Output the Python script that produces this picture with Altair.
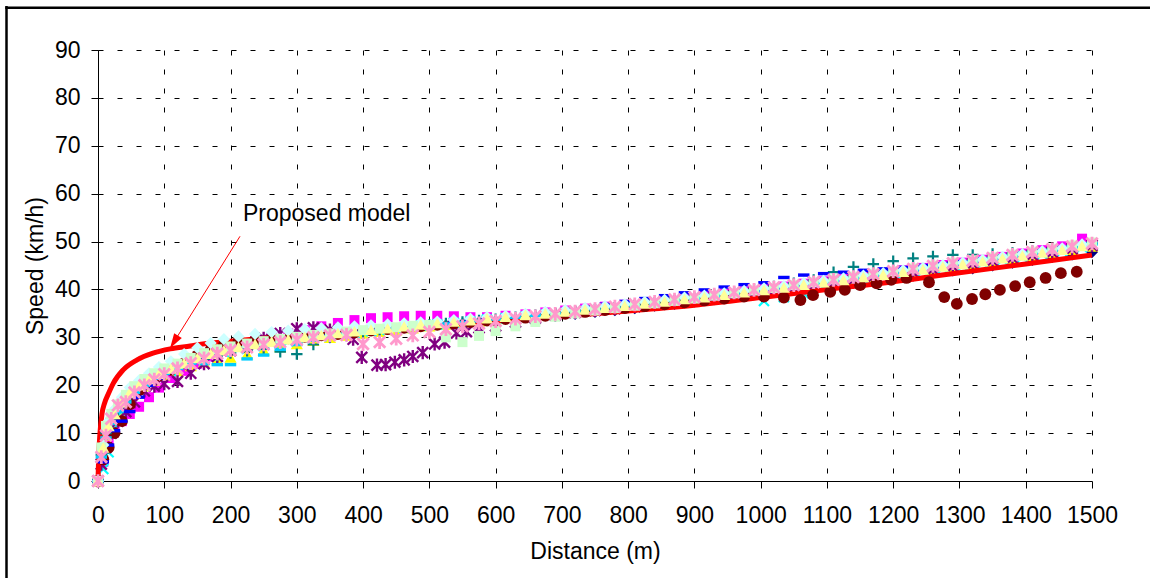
import altair as alt
import pandas as pd

FONT = "Liberation Sans"

# ---------------- data ----------------
X_TICKS = [0, 100, 200, 300, 400, 500, 600, 700, 800, 900, 1000, 1100, 1200, 1300, 1400, 1500]
Y_TICKS = [0, 10, 20, 30, 40, 50, 60, 70, 80, 90]

DIST_A = [
    0, 5, 12, 20, 30, 42, 55, 70, 85, 100,
    120, 140, 160, 180, 200, 225, 250, 275, 300, 325,
    350, 375, 400, 425, 450, 475, 500, 525, 550, 575,
    600, 630, 660, 690, 720, 750, 780, 810, 840, 870,
    900, 930, 960, 990, 1020, 1050, 1080, 1110, 1140, 1170,
    1200, 1230, 1260, 1290, 1320, 1350, 1380, 1410, 1440, 1470,
    1500]
DIST_B = [
    0, 8, 16, 25, 36, 48, 62, 77, 92, 110,
    130, 150, 170, 190, 212, 237, 262, 287, 312, 337,
    362, 387, 412, 437, 462, 487, 512, 537, 562, 587,
    615, 645, 675, 705, 735, 765, 795, 825, 855, 885,
    915, 945, 975, 1005, 1035, 1065, 1095, 1125, 1155, 1185,
    1215, 1245, 1275, 1305, 1335, 1365, 1395, 1425, 1455, 1485]

NAVY_V = [
    0, 4, 9, 12, 14, 16.5, 18, 19.5, 21, 22,
    23.2, 24.5, 25.5, 26.3, 27, 27.5, 28.1, 28.6, 29.1, 29.6,
    30, 30.4, 30.7, 31.1, 31.4, 31.8, 32.2, 32.5, 32.8, 33.1,
    33.4, 33.8, 34.1, 34.5, 34.9, 35.3, 35.7, 36.1, 36.6, 37,
    37.5, 38, 38.5, 39, 39.5, 40, 40.5, 41, 41.4, 41.9,
    42.4, 42.9, 43.5, 44, 44.4, 45, 45.6, 46.2, 46.8, 47.3,
    47.8]
MAGENTA_V = [
    0, 4, 8, 10.5, 12.5, 14, 15.5, 17.5, 19.5, 21.5,
    23, 24.5, 26, 27.2, 28.2, 29.2, 30, 30.8, 31.5, 32.3,
    33, 33.6, 34, 34.2, 34.4, 34.5, 34.5, 34.4, 34.2, 34.2,
    34.5, 34.8, 35.2, 35.6, 36, 36.4, 36.8, 37.3, 37.7, 38.2,
    38.6, 39.1, 39.6, 40.1, 40.6, 41.2, 41.7, 42.2, 42.8, 43.3,
    44, 44.5, 45.1, 45.6, 46.2, 46.8, 47.5, 48.2, 49, 50.6]
YELLOW_V = [
    0, 5, 9.5, 12.5, 14.5, 16.5, 18.3, 19.8, 21, 22,
    23, 24, 24.8, 25.3, 25.8, 26.5, 27.3, 28, 28.6, 29.3,
    29.9, 30.4, 30.8, 31.2, 31.5, 31.9, 32.3, 32.7, 33, 33.3,
    33.6, 34, 34.4, 34.8, 35.2, 35.6, 36, 36.4, 36.9, 37.3,
    37.8, 38.3, 38.8, 39.3, 39.8, 40.3, 40.8, 41.4, 42, 42.5,
    43, 43.5, 44.1, 44.7, 45.2, 45.8, 46.4, 47, 47.6, 48.3,
    49]
CYAN_V = [
    0, 2.5, 6, 11, 14.5, 17, 19, 20.5, 21.8, 23,
    24.2, 25.3, 26.2, 27, 27.6, 28.2, 28.7, 29.2, 29.7, 30.2,
    30.6, 30.9, 31.3, 31.6, 32, 32.4, 32.7, 33, 33.3, 33.7,
    34, 34.3, 34.7, 35.1, 35.5, 35.9, 36.3, 36.8, 37.2, 37.6,
    38, 38.5, 39, 37.6, 38.4, 39.2, 40.6, 41.6, 42.2, 42.8,
    43.4, 43.9, 44.5, 45, 45.6, 46.2, 46.8, 47.4, 48, 48.8]
PURPLE_V = [
    0, 3.5, 7, 10, 12.5, 14.5, 16.5, 18.8, 19.8, 20.3,
    20.8, 22.5, 24.5, 26, 27.2, 28.5, 29.8, 30.8, 31.8, 32,
    31.5, None, None, None, None, None, None, None, None, None,
    32.4, 33.2, 34, 34.7, 35.2, 35.6, 36, 36.4, 36.9, 37.3,
    37.8, 38.3, 38.8, 39.3, 39.8, 40.4, 40.9, 41.5, 42, 42.6,
    43.1, 43.6, 44.2, 44.8, 45.4, 46, 46.6, 47.2, 47.8, 48.5,
    49.2]
PURPLE_DIP_D = [385, 398, 421, 434, 448, 462, 475, 490, 508, 523, 541, 556, 575]
PURPLE_DIP_V = [29.6, 25.8, 24.2, 24.3, 24.8, 25.3, 26, 26.8, 28.6, 29, 30.9, 31.2, 32]
MAROON_V = [
    0, 4.5, 7, 10, 12.5, 16, 19, 20.8, 22, 23.2,
    24.6, 26.2, 27.4, 28.4, 29.2, 29.4, 29.6, 29.8, 30.1, 30.4,
    30.7, 31, 31.4, 31.7, 32, 32.3, 32.6, 32.9, 33.2, 33.5,
    33.8, 34.1, 34.5, 34.9, 35.3, 35.7, 36.1, 36.5, 36.9, 37.3,
    37.7, 38.1, 38.5, 38.5, 38.3, None, None, None, None, None,
    None, None, None, None, None, None, None, None, None, None]
MAROON_TAIL_D = [1060, 1079, 1105, 1127, 1150, 1175, 1197, 1220, 1254, 1277,
                 1296, 1319, 1339, 1361, 1384, 1406, 1430, 1453, 1477]
MAROON_TAIL_V = [37.8, 38.8, 39.5, 39.9, 40.9, 41.3, 42, 42.4, 41.5, 38.4,
                 37, 38, 39, 39.9, 40.7, 41.5, 42.4, 43.4, 43.7]
TEAL_V = [
    0, 5.5, 10, 13, 15, 17, 18.7, 20.2, 21.3, 22.4,
    23.5, 24.6, 25.5, 26.2, 26.7, 27.2, 27.6, 27, 26.5, 28.5,
    30, 30.6, 31, 31.4, 31.8, 32.2, 32.6, 32.9, 33.2, 33.5,
    33.8, 34.2, 34.6, 35, 35.4, 35.8, 36.2, 36.7, 37.2, 37.7,
    38.2, 38.8, 39.4, 40, 40.6, 41.3, 42, 43.6, 44.7, 45.3,
    45.9, 46.5, 46.9, 47.2, 47.2, 47.4, 47.6, 48, 48.5, 49,
    49.6]
BLUE_V = [
    0, 4, 7.5, 10.5, 12.5, 14.5, 17.5, 20, 21.5, 22.8,
    24, 25.2, 26.2, 27, 27.6, 28.2, 28.8, 29.3, 29.8, 30.3,
    30.7, 31.1, 31.5, 31.8, 32.2, 32.6, 33, 33.3, 33.6, 34,
    34.4, 34.8, 35.3, 35.8, 36.3, 36.9, 37.5, 38.1, 38.7, 39.3,
    39.9, 40.5, 41, 41.4, 42.5, 43, 43.3, 43.6, 44, 44.3,
    44.6, 45, 45.4, 45.8, 46.3, 46.8, 47.4, 48, 48.6, 49.4]
SKY_V = [
    0, 5, 9, 12, 14.5, 16.5, 18.5, 20, 21.5, 22.5,
    23.5, 24.6, 24.5, 24.3, 24.3, 25.5, 26.3, 27.5, 28.5, 29.4,
    30.1, 30.6, 31, 31.4, 31.8, 32.1, 32.5, 32.8, 33.1, 33.4,
    33.8, 34.2, 34.6, 35, 35.4, 35.8, 36.2, 36.6, 37.1, 37.6,
    38.1, 38.6, 39.1, 39.6, 40.1, 40.6, 41.2, 41.8, 42.3, 42.9,
    43.4, 43.9, 44.5, 45.1, 45.7, 46.3, 46.9, 47.5, 48.1, 48.8,
    49.5]
LCYAN_V = [
    0, 7.5, 12.5, 15, 17.5, 19.5, 21, 22.5, 23.8, 25,
    26.5, 27.8, 28.8, 29.6, 30.2, 30.7, 31.1, 31.4, 31.7, 31.9,
    32.1, 32.3, 32.5, 32.7, 32.9, 33.1, 33.3, 33.6, 33.9, 34.2,
    34.5, 34.9, 35.3, 35.7, 36.1, 36.5, 36.9, 37.4, 37.8, 38.3,
    38.7, 39.2, 39.7, 40.2, 40.7, 41.3, 41.8, 42.3, 42.9, 43.4,
    44, 44.5, 45.1, 45.6, 46.2, 46.8, 47.4, 48, 48.6, 49.4]
LGREEN_V = [
    0, 7, 11.5, 14, 16, 18, 19.8, 21.3, 22.5, 23.5,
    24.5, 25.7, 26.7, 27.5, 28.1, 28.7, 29.2, 29.7, 30.1, 30.5,
    30.8, 31.2, 31.5, 31.8, 32.1, 32.4, 32.6, 30, 29, 30.3,
    31.3, 32.3, 33.2, 34.3, 35, 35.6, 36.1, 36.6, 37.1, 37.6,
    38.1, 38.7, 39.2, 39.8, 40.3, 40.9, 41.5, 42.1, 42.7, 43.3,
    43.8, 44.4, 45, 45.6, 46.1, 46.7, 47.3, 47.9, 48.5, 49.2,
    49.8]
LYELLOW_V = [
    0, 7, 11.5, 14, 16.5, 18.5, 20, 21.3, 22.4, 23.5,
    24.6, 25.7, 26.6, 27.3, 28, 28.6, 29.1, 29.6, 30.1, 30.5,
    30.9, 31.3, 31.6, 31.9, 32.3, 32.7, 33, 33.3, 33.6, 34,
    34.3, 34.7, 35, 35.4, 35.8, 36.2, 36.6, 37.1, 37.5, 38,
    38.4, 38.9, 39.4, 39.9, 40.4, 41, 41.5, 42, 42.6, 43.1,
    43.7, 44.2, 44.8, 45.3, 45.9, 46.5, 47.1, 47.7, 48.3, 49.1]
PINK_V = [
    0, 5, 9.5, 13, 15.8, 16.5, 18.5, 20, 21.2, 22.3,
    23.5, 24.6, 25.6, 26.6, 27.3, 27.9, 28.5, 29, 29.5, 30,
    30.4, 30.5, 28.6, 29, 29.7, 30.4, 31.1, 31.7, 32.3, 32.9,
    33.4, 33.9, 34.4, 34.9, 35.4, 35.9, 36.4, 36.9, 37.4, 37.9,
    38.4, 38.9, 39.4, 39.9, 40.4, 40.9, 41.5, 42, 42.6, 43.2,
    43.8, 44.3, 44.9, 45.5, 46, 46.6, 47.2, 47.8, 48.4, 49,
    49.6]

MODEL_D = [0, 1, 3, 6, 10, 15, 23, 38, 59, 83, 109, 139, 158, 200, 250, 300,
           400, 500, 600, 700, 800, 900, 1000, 1100, 1200, 1300, 1400, 1500]
MODEL_V = [0, 5, 10, 14, 16.3, 18, 20.4, 23.2, 25.3, 26.7, 27.6, 28.2, 28.6, 29.2, 29.8, 30.4,
           31.3, 32.3, 33.4, 34.4, 35.5, 36.7, 38.3, 40, 41.6, 43.5, 45.3, 47.2]

ARROW_D = [214.3, 114.7]
ARROW_V = [51.1, 29.05]
LABEL_D = [218.8]
LABEL_V = [54.35]
LABEL_T = ["Proposed model"]

# ---------------- helpers ----------------
XS = alt.Scale(domain=[0, 1500], nice=False, zero=False)
YS = alt.Scale(domain=[0, 90], nice=False, zero=False)
FS = 23

XAXIS = alt.Axis(
    values=X_TICKS, format="d", title="Distance (m)", grid=True, gridColor="black",
    gridDash=[5, 14], gridWidth=1, domainColor="black", domainWidth=1,
    tickColor="black", tickSize=7, tickWidth=1, labelFontSize=FS, labelFont=FONT,
    labelColor="black", labelPadding=16, labelFlush=False, labelOverlap=False,
    titleFontSize=FS, titleFont=FONT, titleFontWeight="normal", titleColor="black",
    titleY=77, titleBaseline="alphabetic", titleAlign="center", titleX=497)
YAXIS = alt.Axis(
    values=Y_TICKS, format="d", title="Speed (km/h)", grid=True, gridColor="black",
    gridDash=[5, 14], gridWidth=1, domainColor="black", domainWidth=1,
    tickColor="black", tickSize=7, tickWidth=1, labelFontSize=FS, labelFont=FONT,
    labelColor="black", labelPadding=11, labelFlush=False, labelOverlap=False,
    titleFontSize=FS, titleFont=FONT, titleFontWeight="normal", titleColor="black",
    titleAngle=270, titleX=-56, titleY=215.5, titleAlign="center", titleBaseline="alphabetic")


def df_of(d, v):
    n = min(len(d), len(v))
    return pd.DataFrame({"d": list(d)[:n], "v": list(v)[:n]}).dropna()


def enc(ch):
    return ch.encode(x=alt.X("d:Q", scale=XS, axis=XAXIS),
                     y=alt.Y("v:Q", scale=YS, axis=YAXIS))


ASTERISK = "M-1,-1L1,1M1,-1L-1,1M0,-1.2L0,1.2"
XSHAPE = "M-1,-1L1,1M1,-1L-1,1"
PLUS = "M-1,0L1,0M0,-1L0,1"
DASH = "M-1,-0.3L1,-0.3L1,0.3L-1,0.3Z"
ARROWHEAD = "M0,-1L-0.6,1L0.6,1Z"


def pts(df, shape, color, size, filled=True, sw=1):
    if filled:
        m = alt.Chart(df).mark_point(shape=shape, size=size, filled=True, color=color,
                                     opacity=1, strokeWidth=0)
    else:
        m = alt.Chart(df).mark_point(shape=shape, size=size, filled=False, color=color,
                                     opacity=1, strokeWidth=sw)
    return enc(m)


layers = [
    pts(df_of(DIST_A, NAVY_V), "diamond", "#000080", 150),
    pts(df_of(DIST_B, MAGENTA_V), "square", "#FF00FF", 100),
    pts(df_of(DIST_A, YELLOW_V), "triangle-up", "#FFFF00", 150),
    pts(df_of(DIST_B, CYAN_V), XSHAPE, "#00FFFF", 100, filled=False, sw=2.2),
    pts(df_of(DIST_A, PURPLE_V), ASTERISK, "#800080", 120, filled=False, sw=2.4),
    pts(df_of(PURPLE_DIP_D, PURPLE_DIP_V), ASTERISK, "#800080", 120, filled=False, sw=2.4),
    enc(alt.Chart(df_of(MODEL_D, MODEL_V)).mark_line(color="#FF0000", strokeWidth=5,
                                                     interpolate="monotone")),
    pts(df_of(DIST_B, MAROON_V), "circle", "#800000", 140),
    pts(df_of(MAROON_TAIL_D, MAROON_TAIL_V), "circle", "#800000", 140),
    pts(df_of(DIST_A, TEAL_V), PLUS, "#008080", 130, filled=False, sw=2.2),
    pts(df_of(DIST_B, BLUE_V), DASH, "#0000FF", 130),
    pts(df_of(DIST_A, SKY_V), DASH, "#00CCFF", 130),
    pts(df_of(DIST_B, LCYAN_V), "diamond", "#CCFFFF", 150),
    pts(df_of(DIST_A, LGREEN_V), "square", "#CCFFCC", 100),
    pts(df_of(DIST_B, LYELLOW_V), "triangle-up", "#FFFF99", 150),
    pts(df_of(DIST_A, PINK_V), ASTERISK, "#FF99CC", 130, filled=False, sw=2.8),
    enc(alt.Chart(df_of(ARROW_D, ARROW_V)).mark_line(color="#FF0000", strokeWidth=1)),
    enc(alt.Chart(df_of(ARROW_D[1:], ARROW_V[1:])).mark_point(
        shape=ARROWHEAD, size=225, filled=True, color="#FF0000", opacity=1,
        strokeWidth=0, angle=212)),
    enc(alt.Chart(pd.DataFrame({"d": LABEL_D, "v": LABEL_V, "t": LABEL_T})).mark_text(
        align="left", baseline="alphabetic", fontSize=FS, font=FONT, color="black"
    )).encode(text="t:N"),
    alt.Chart(pd.DataFrame({"a": [0]})).mark_rule(color="black", strokeWidth=2.5).encode(
        x=alt.value(-91.5), y=alt.value(-44), y2=alt.value(540)),
    alt.Chart(pd.DataFrame({"a": [0]})).mark_rule(color="black", strokeWidth=2.5).encode(
        y=alt.value(-42.2), x=alt.value(-92.7), x2=alt.value(1100)),
]

chart = alt.layer(*layers).properties(
    width=994, height=431,
    padding={"left": 98, "top": 50, "right": 58, "bottom": 97},
    autosize=alt.AutoSizeParams(type="none"),
    background="white",
).configure_view(stroke=None)

chart.save("out.html", embed_options={"renderer": "svg", "actions": False})
